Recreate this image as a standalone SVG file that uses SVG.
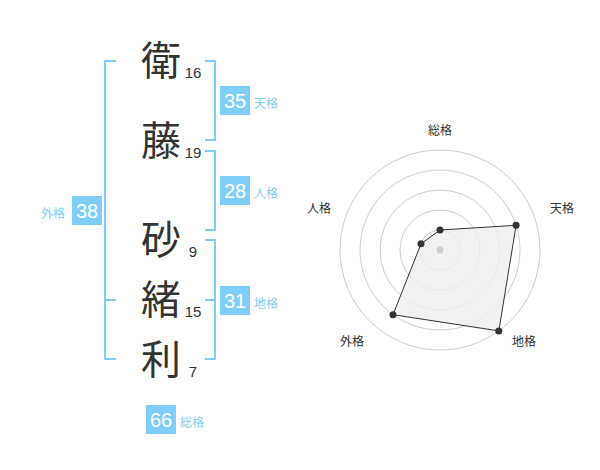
<svg xmlns="http://www.w3.org/2000/svg" width="600" height="470" viewBox="0 0 600 470">
<style>
.kanji{font-family:"Noto Sans CJK JP","Noto Sans CJK SC",sans-serif;font-size:40px;fill:#333;text-anchor:middle}
.num{font-family:"Liberation Sans",Arial,sans-serif;font-size:15px;fill:#333;text-anchor:middle}
.box{fill:#7fcef9}
.boxnum{font-family:"Liberation Sans",Arial,sans-serif;font-size:20px;fill:#fff;text-anchor:middle}
.blabel{font-family:"Noto Sans CJK JP",sans-serif;font-size:12px;fill:#7fcef9}
.br{fill:none;stroke:#7fcef9;stroke-width:2}
.ring{fill:none;stroke:#cccccc;stroke-width:1}
.rlabel{font-family:"Noto Sans CJK JP",sans-serif;font-size:12px;fill:#333;text-anchor:middle}
.dot{fill:#333}
</style>
<rect width="600" height="470" fill="#fff"/>
<g id="connectors">
<path class="br" d="M116,61 H105 V359 H116 M105,300 H116"/>
<path class="br" d="M205,61 H215 V140 H205"/>
<path class="br" d="M205,151 H215 V230 H205"/>
<path class="br" d="M205,240 H215 V359 H205 M205,300 H215"/>
</g>
<g id="char1"><text class="kanji" x="161" y="75">衛</text><text class="num" x="193" y="78">16</text></g>
<g id="char2"><text class="kanji" x="161" y="155">藤</text><text class="num" x="193" y="158">19</text></g>
<g id="char3"><text class="kanji" x="161" y="254">砂</text><text class="num" x="193" y="257">9</text></g>
<g id="char4"><text class="kanji" x="161" y="314">緒</text><text class="num" x="193" y="317">15</text></g>
<g id="char5"><text class="kanji" x="161" y="374">利</text><text class="num" x="193" y="377">7</text></g>
<g id="tenkaku"><rect class="box" x="220" y="86" width="30" height="29"/><text class="boxnum" x="235" y="108">35</text><text class="blabel" x="254" y="108">天格</text></g>
<g id="jinkaku"><rect class="box" x="220" y="176" width="30" height="29"/><text class="boxnum" x="235" y="198">28</text><text class="blabel" x="254" y="198">人格</text></g>
<g id="chikaku"><rect class="box" x="220" y="286" width="30" height="29"/><text class="boxnum" x="235" y="308">31</text><text class="blabel" x="254" y="308">地格</text></g>
<g id="gaikaku"><rect class="box" x="72" y="196" width="30" height="29"/><text class="boxnum" x="87" y="218">38</text><text class="blabel" x="41" y="218">外格</text></g>
<g id="soukaku"><rect class="box" x="146" y="405" width="30" height="29"/><text class="boxnum" x="161" y="427">66</text><text class="blabel" x="180" y="427">総格</text></g>
<g id="radar">
<circle class="ring" cx="440" cy="250" r="20"/>
<circle class="ring" cx="440" cy="250" r="40"/>
<circle class="ring" cx="440" cy="250" r="60"/>
<circle class="ring" cx="440" cy="250" r="80"/>
<circle class="ring" cx="440" cy="250" r="100"/>
<polygon points="440,230 516.1,225.3 498.8,330.9 393,314.7 421,243.8" fill="#eeeeee" fill-opacity="0.8" stroke="#333" stroke-width="1"/>
<circle cx="440" cy="250" r="3.5" fill="#cccccc"/>
<circle class="dot" cx="440" cy="230" r="3.5"/>
<circle class="dot" cx="516.1" cy="225.3" r="3.5"/>
<circle class="dot" cx="498.8" cy="330.9" r="3.5"/>
<circle class="dot" cx="393" cy="314.7" r="3.5"/>
<circle class="dot" cx="421" cy="243.8" r="3.5"/>
<text class="rlabel" x="440" y="135">総格</text>
<text class="rlabel" x="562" y="213">天格</text>
<text class="rlabel" x="524" y="346">地格</text>
<text class="rlabel" x="352" y="346">外格</text>
<text class="rlabel" x="319" y="213">人格</text>
</g>
</svg>
